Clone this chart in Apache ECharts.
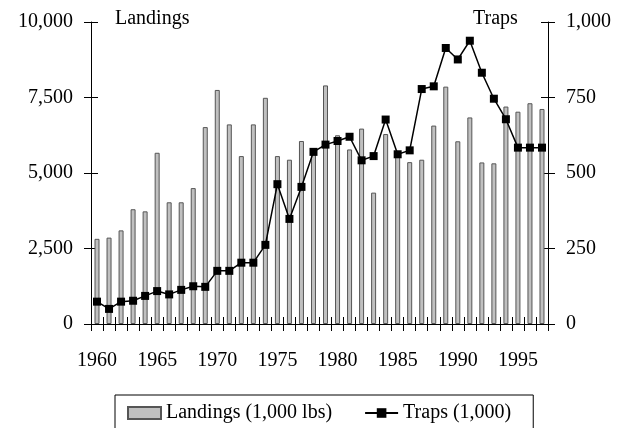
<!DOCTYPE html>
<html>
<head>
<meta charset="utf-8">
<script src="https://cdn.jsdelivr.net/npm/echarts@6/dist/echarts.min.js"></script>
<style>
  html, body { margin:0; padding:0; background:#fff; }
  #chart { width:624px; height:428px; }
</style>
</head>
<body>
<div id="chart"></div>
<script>
// ---- data ----
const years = [];
for (let y = 1960; y <= 1997; y++) years.push(String(y));

const landings = [
  2820, 2860, 3100, 3800, 3730, 5670, 4030, 4030, 4500, 6520,
  7750, 6610, 5560, 6610, 7490, 5560, 5440, 6060, 5700, 7900,
  6250, 5780, 6470, 4350, 6290, 5600, 5360, 5440, 6570, 7860,
  6050, 6840, 5350, 5320, 7200, 7030, 7310, 7120
];

const traps = [
  74, 50, 74, 77, 93, 109, 98, 113, 125, 123,
  176, 176, 203, 203, 262, 463, 348, 454, 570, 594,
  606, 620, 542, 556, 677, 562, 575, 778, 787, 914,
  876, 938, 832, 746, 678, 584, 584, 584
];

const leftTicks = [0, 2500, 5000, 7500, 10000];
const rightTicks = [0, 250, 500, 750, 1000];

const FONT = '"Liberation Serif", "DejaVu Serif", serif';
const FS = 20;
const fmt = v => v.toLocaleString('en-US');

const chart = echarts.init(document.getElementById('chart'));

// ticks cross the axis line: one axis draws the outer half, a twin draws the inner half
const catAxis = (inside) => ({
  type: 'category',
  data: years,
  position: 'bottom',
  boundaryGap: true,
  axisLine: { show: !inside, lineStyle: { color: '#000', width: 1 } },
  axisTick: { show: true, inside: inside, length: 7, interval: 0, lineStyle: { color: '#000' } },
  axisLabel: {
    show: !inside, interval: 4, margin: 27,
    color: '#000', fontFamily: FONT, fontSize: FS
  },
  splitLine: { show: false }
});

const valAxis = (pos, ticks, inside) => ({
  type: 'value',
  position: pos,
  offset: 0,
  min: ticks[0],
  max: ticks[ticks.length - 1],
  interval: ticks[1] - ticks[0],
  axisLine: { show: !inside, lineStyle: { color: '#000', width: 1 } },
  axisTick: { show: true, inside: inside, length: 7, lineStyle: { color: '#000' } },
  axisLabel: {
    show: !inside, margin: 18, formatter: fmt,
    color: '#000', fontFamily: FONT, fontSize: FS
  },
  splitLine: { show: false }
});

chart.setOption({
  animation: false,
  backgroundColor: '#fff',
  textStyle: { fontFamily: FONT },
  grid: { left: 91, right: 76, top: 22, bottom: 104, containLabel: false },
  xAxis: [catAxis(false), catAxis(true)],
  yAxis: [
    valAxis('left', leftTicks, false),
    valAxis('right', rightTicks, false),
    valAxis('left', leftTicks, true),
    valAxis('right', rightTicks, true)
  ],
  graphic: [
    { type: 'text', left: 115, top: 9,
      style: { text: 'Landings', fill: '#000', font: FS + 'px ' + FONT } },
    { type: 'text', left: 473, top: 9,
      style: { text: 'Traps', fill: '#000', font: FS + 'px ' + FONT } }
  ],
  legend: {
    left: 115, top: 395,
    padding: [8, 22, 14, 12],
    itemGap: 32,
    itemWidth: 33, itemHeight: 12,
    borderColor: '#000', borderWidth: 1,
    textStyle: { color: '#000', fontFamily: FONT, fontSize: FS },
    data: [
      { name: 'Landings (1,000 lbs)', icon: 'rect' },
      { name: 'Traps (1,000)' }
    ]
  },
  series: [
    {
      name: 'Landings (1,000 lbs)',
      type: 'bar',
      xAxisIndex: 0, yAxisIndex: 0,
      data: landings,
      barWidth: 5,
      itemStyle: { color: '#c0c0c0', borderColor: '#555', borderWidth: 1 }
    },
    {
      name: 'Traps (1,000)',
      type: 'line',
      xAxisIndex: 0, yAxisIndex: 1,
      data: traps,
      symbol: 'rect', symbolSize: 8,
      lineStyle: { color: '#000', width: 1.5 },
      itemStyle: { color: '#000' }
    }
  ]
});
</script>
</body>
</html>
